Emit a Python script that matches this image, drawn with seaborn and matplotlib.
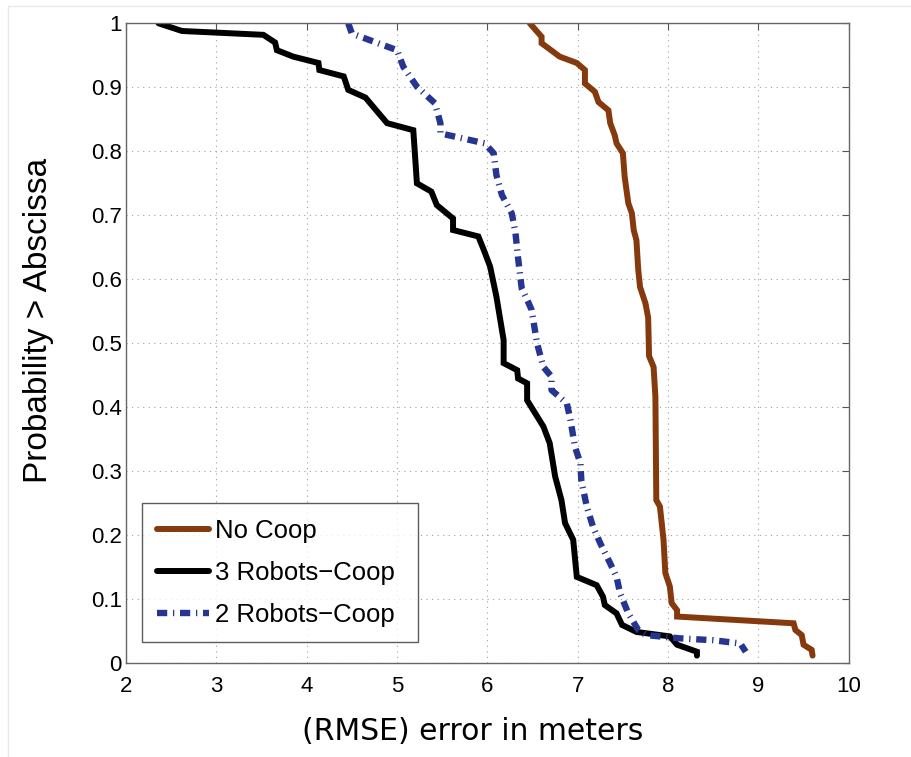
import matplotlib
matplotlib.use("Agg")
import numpy as np
import pandas as pd
import matplotlib.pyplot as plt
import seaborn as sns
from matplotlib.lines import Line2D

# curve data (x = RMSE in meters, y = probability)
no_coop_x = [6.47, 6.60, 6.60, 6.80, 6.99, 7.08, 7.08, 7.19, 7.23, 7.34, 7.36, 7.41, 7.43, 7.50,
             7.52, 7.56, 7.60, 7.62, 7.65, 7.67, 7.69, 7.75, 7.78, 7.79, 7.84, 7.86, 7.87, 7.91,
             7.95, 7.97, 8.02, 8.04, 8.10, 8.10, 9.39, 9.41, 9.48, 9.50, 9.59, 9.60]
no_coop_y = [1.0, 0.979, 0.969, 0.948, 0.938, 0.927, 0.906, 0.893, 0.877, 0.864, 0.844, 0.825, 0.8125, 0.797,
             0.760, 0.719, 0.703, 0.677, 0.661, 0.615, 0.588, 0.5625, 0.540, 0.480, 0.463, 0.417, 0.255, 0.245,
             0.193, 0.141, 0.120, 0.094, 0.083, 0.073, 0.0625, 0.052, 0.044, 0.029, 0.021, 0.012]

three_x = [2.36, 2.62, 3.52, 3.65, 3.67, 3.85, 4.13, 4.14, 4.41, 4.46, 4.65, 4.89, 5.18, 5.22, 5.38,
           5.44, 5.62, 5.62, 5.90, 5.96, 6.03, 6.10, 6.18, 6.18, 6.33, 6.34, 6.44, 6.44, 6.62, 6.69,
           6.75, 6.82, 6.86, 6.95, 6.99, 7.21, 7.28, 7.30, 7.43, 7.49, 7.65, 8.02, 8.10, 8.32, 8.32]
three_y = [1.0, 0.988, 0.982, 0.970, 0.958, 0.948, 0.938, 0.927, 0.917, 0.896, 0.884, 0.844, 0.833, 0.750, 0.737,
           0.716, 0.695, 0.677, 0.667, 0.646, 0.620, 0.573, 0.505, 0.469, 0.458, 0.445, 0.4375, 0.411, 0.370, 0.344,
           0.292, 0.255, 0.219, 0.193, 0.135, 0.122, 0.104, 0.091, 0.078, 0.060, 0.049, 0.042, 0.029, 0.018, 0.012]

two_x = [4.46, 4.50, 5.00, 5.07, 5.22, 5.42, 5.48, 5.48, 5.97, 6.07, 6.10, 6.16, 6.27, 6.31, 6.34,
         6.38, 6.45, 6.49, 6.55, 6.62, 6.71, 6.71, 6.88, 6.92, 6.97, 7.03, 7.04, 7.10, 7.17, 7.25,
         7.36, 7.43, 7.47, 7.56, 7.67, 7.76, 8.13, 8.50, 8.80, 8.86]
two_y = [1.0, 0.984, 0.958, 0.932, 0.901, 0.875, 0.844, 0.828, 0.8125, 0.797, 0.763, 0.732, 0.703, 0.674, 0.633,
         0.586, 0.565, 0.552, 0.500, 0.463, 0.448, 0.427, 0.406, 0.380, 0.338, 0.3125, 0.286, 0.245, 0.213, 0.1875,
         0.156, 0.135, 0.109, 0.078, 0.052, 0.044, 0.039, 0.036, 0.031, 0.018]

labels = ["No Coop", "3 Robots\u2212Coop", "2 Robots\u2212Coop"]
x_ticks = [2, 3, 4, 5, 6, 7, 8, 9, 10]
y_ticks = [0, 0.1, 0.2, 0.3, 0.4, 0.5, 0.6, 0.7, 0.8, 0.9, 1]
y_ticklabels = ["0", "0.1", "0.2", "0.3", "0.4", "0.5", "0.6", "0.7", "0.8", "0.9", "1"]

sns.set_style("white")
plt.rcParams['font.family'] = ['Liberation Sans', 'DejaVu Sans']

fig = plt.figure(figsize=(9.12, 7.57), dpi=100)
ax = fig.add_axes([0.1382, 0.1238, 0.7924, 0.8454])

brown = '#853A0E'
blue = '#263591'

sns.lineplot(x=no_coop_x, y=no_coop_y, ax=ax, color=brown, lw=4.3, sort=False,
             estimator=None, label=labels[0], solid_joinstyle='miter')
sns.lineplot(x=three_x, y=three_y, ax=ax, color='black', lw=4.3, sort=False,
             estimator=None, label=labels[1], solid_joinstyle='miter')
sns.lineplot(x=two_x, y=two_y, ax=ax, color=blue, lw=4.6, sort=False,
             estimator=None, label=labels[2], linestyle=(0, (1.6, 0.9, 0.2, 0.9)))

ax.set_xlim(2, 10)
ax.set_ylim(0, 1)
ax.set_xticks(x_ticks)
ax.set_xticklabels([str(t) for t in x_ticks])
ax.set_yticks(y_ticks)
ax.set_yticklabels(y_ticklabels)
ax.tick_params(direction='in', length=5, width=0.8, color='#555555', labelsize=16,
               labelcolor='black', top=True, right=True)
ax.tick_params(axis='x', pad=9)
ax.tick_params(axis='y', pad=3)
ax.grid(True, linestyle=(0, (1, 4)), color='#a0a0a0', linewidth=0.8)
for s in ax.spines.values():
    s.set_color('#666666')
    s.set_linewidth(1.0)

ax.set_xlabel("(RMSE) error in meters", fontsize=21.5, family='DejaVu Sans', color='black')
ax.xaxis.set_label_coords(0.479, -0.084)
ax.set_ylabel("Probability > Abscissa", fontsize=24, color='black')
ax.yaxis.set_label_coords(-0.099, 0.536)

leg = ax.legend(loc='lower left', bbox_to_anchor=(0.0217, 0.0328, 0.382, 0.2), mode='expand',
                borderaxespad=0, fontsize=18.5, frameon=True, fancybox=False, handlelength=2.0,
                handletextpad=0.25, labelspacing=0.7, borderpad=0.6)
leg.get_frame().set_edgecolor('#333333')
leg.get_frame().set_linewidth(1.0)
for t in leg.get_texts():
    t.set_color('black')

# faint border of the original screenshot
fig.add_artist(Line2D([0.009, 0.009], [0, 0.992], transform=fig.transFigure, color='#e8e8e8', lw=1))
fig.add_artist(Line2D([0.009, 1], [0.992, 0.992], transform=fig.transFigure, color='#e8e8e8', lw=1))

fig.savefig("out.png", dpi=100)
